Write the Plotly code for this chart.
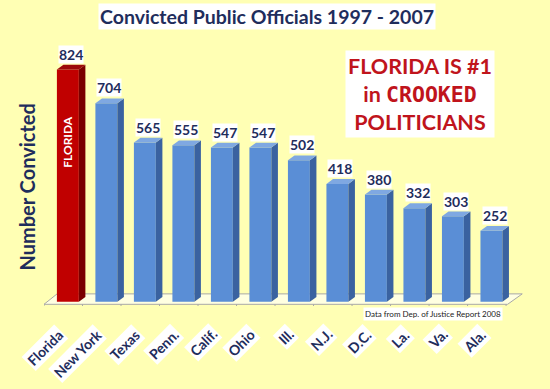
import plotly.graph_objects as go

categories = ["Florida", "New York", "Texas", "Penn.", "Calif.", "Ohio", "Ill.", "N.J.", "D.C.", "La.", "Va.", "Ala."]
convicted = [824, 704, 565, 555, 547, 547, 502, 418, 380, 332, 303, 252]
highlight = "Florida"

BG = "#FFFFB4"
NAVY = "#1F2D5C"
W = 0.57      # bar width (category units)
DX = 0.17     # 3D depth, x
DY = 17       # 3D depth, y (value units)

idx = list(range(len(categories)))
front = ["#C00000" if c == highlight else "#5A8ED6" for c in categories]
side = ["#7A0000" if c == highlight else "#3A62A0" for c in categories]
top = ["#9C0A0A" if c == highlight else "#7FA8E2" for c in categories]

fig = go.Figure()
fig.add_trace(go.Bar(x=idx, y=convicted, width=W, marker=dict(color=front, line=dict(width=0)),
                     hoverinfo="skip", showlegend=False))
for i, v in zip(idx, convicted):
    r = i + W / 2
    l = i - W / 2
    fig.add_trace(go.Scatter(x=[r, r + DX, r + DX, r, r], y=[0, DY, v + DY, v, 0], mode="lines",
                             fill="toself", fillcolor=side[i], line=dict(width=0), hoverinfo="skip",
                             showlegend=False))
    fig.add_trace(go.Scatter(x=[l, r, r + DX, l + DX, l], y=[v, v, v + DY, v + DY, v], mode="lines",
                             fill="toself", fillcolor=top[i], line=dict(width=0), hoverinfo="skip",
                             showlegend=False))

shapes = []
# floor
shapes.append(dict(type="path", xref="x", yref="y", layer="below",
                   path="M -0.62,-9 L 11.42,-9 L 11.8,28 L -0.28,28 Z",
                   fillcolor="rgba(255,255,255,0.6)", line=dict(color="#A8A8A8", width=1)))
for k in range(len(categories) + 1):
    shapes.append(dict(type="line", xref="x", yref="y", x0=k - 0.62, x1=k - 0.62, y0=-9, y1=-33,
                       line=dict(color="#A8A8A8", width=1)))

annotations = []
for i, v in zip(idx, convicted):
    annotations.append(dict(x=i + 0.08, y=v + DY, xref="x", yref="y", text=f"<b>{v}</b>",
                            showarrow=False, xanchor="center", yanchor="bottom", yshift=1,
                            font=dict(family="Lato", size=14, color=NAVY),
                            bgcolor="white", borderpad=0))
    annotations.append(dict(x=i + 0.03, y=0, xref="x", yref="paper", text=f"<b>{categories[i]}</b>",
                            showarrow=False, textangle=-45, xanchor="right", yanchor="top",
                            yshift=-17, font=dict(family="Lato", size=14, color=NAVY),
                            bgcolor="white", borderpad=1))

annotations += [
    dict(x=0, y=567, xref="x", yref="y", text="<b>FLORIDA</b>", textangle=-90, showarrow=False,
         xanchor="center", yanchor="middle", font=dict(family="Lato", size=12, color="white")),
    dict(x=0.466, y=1.124, xref="paper", yref="paper", xanchor="center", yanchor="middle",
         text="<b>Convicted Public Officials 1997 - 2007</b>", showarrow=False,
         font=dict(family="Lato", size=19.5, color=NAVY), bgcolor="white", borderpad=1),
    dict(x=-0.035, y=0.46, xref="paper", yref="paper", xanchor="center", yanchor="middle",
         text="<b>Number Convicted</b>", textangle=-90,
         showarrow=False, font=dict(family="Lato", size=20, color=NAVY)),
    dict(x=0.785, y=0.992, xref="paper", yref="paper", xanchor="center", yanchor="top",
         text="<b>FLORIDA IS #1</b><br><b>in <span style='font-family:DejaVu Sans Mono'>CROOKED</span></b><br><b>POLITICIANS</b>",
         showarrow=False, font=dict(family="Lato", size=21.5, color="#C0141C"), align="center",
         bgcolor="white", borderpad=2),
    dict(x=1.0, y=0, xref="paper", yref="paper", xanchor="right", yanchor="top", xshift=-20, yshift=-1,
         text="Data from Dep. of Justice Report 2008", showarrow=False,
         font=dict(family="Lato", size=8, color="#222222"), bgcolor="white", borderpad=1),
]

fig.update_layout(
    width=550, height=389,
    paper_bgcolor=BG, plot_bgcolor=BG,
    margin=dict(l=44, r=27, t=48, b=83),
    xaxis=dict(range=[-0.62, 11.82], showticklabels=False, showgrid=False, zeroline=False,
               showline=False, ticks=""),
    yaxis=dict(range=[-15, 900], showticklabels=False, showgrid=False, zeroline=False,
               showline=False, ticks=""),
    shapes=shapes, annotations=annotations, showlegend=False,
)
fig.write_html("out.html", config={"displayModeBar": False},
               post_script="document.body.style.margin='0';")
